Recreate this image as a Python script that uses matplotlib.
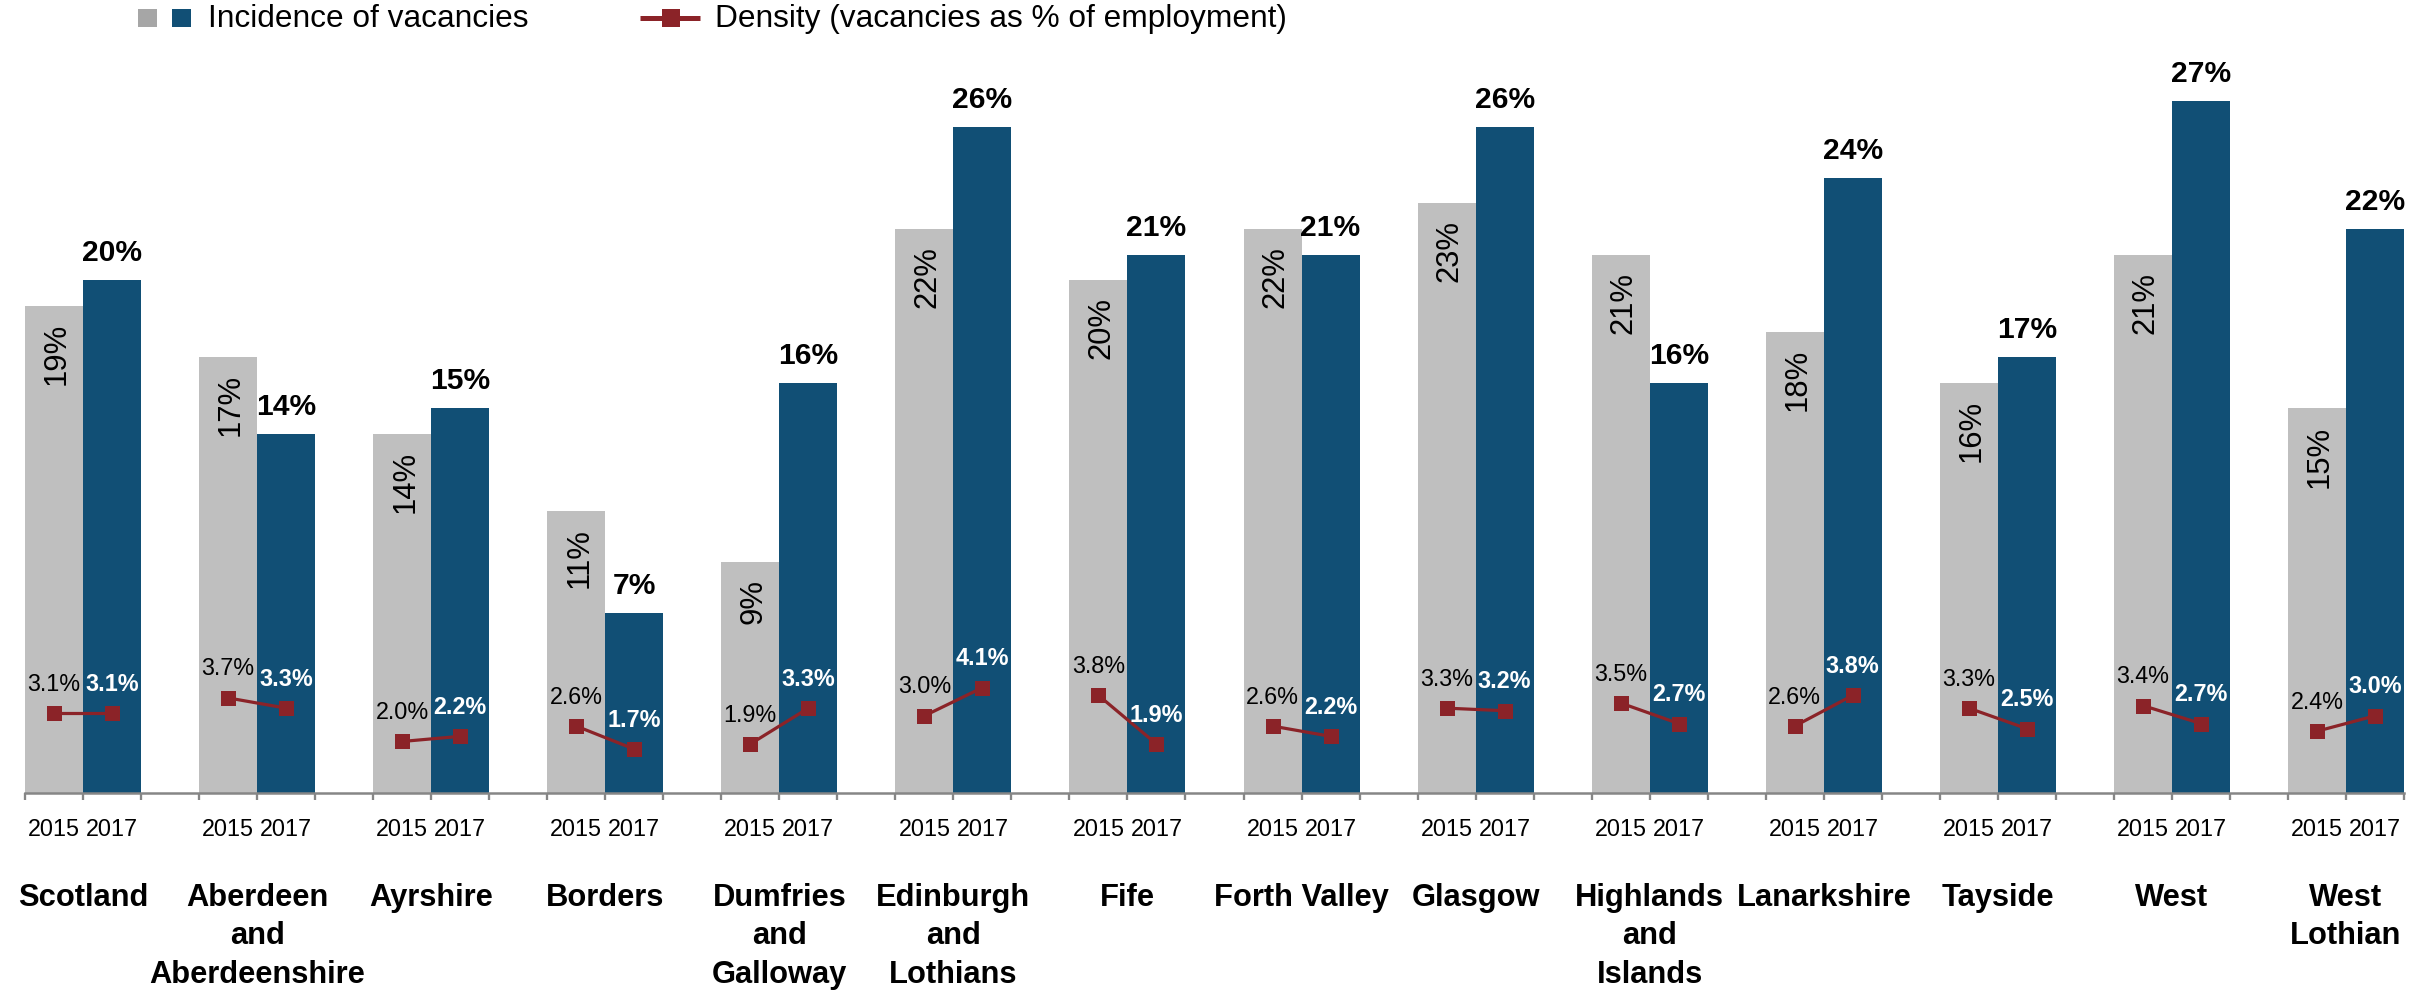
import matplotlib
matplotlib.use("Agg")
import matplotlib.pyplot as plt
from matplotlib.patches import Rectangle
from matplotlib.lines import Line2D

# ---- data -------------------------------------------------------------
regions = [
    "Scotland",
    "Aberdeen\nand\nAberdeenshire",
    "Ayrshire",
    "Borders",
    "Dumfries\nand\nGalloway",
    "Edinburgh\nand\nLothians",
    "Fife",
    "Forth Valley",
    "Glasgow",
    "Highlands\nand\nIslands",
    "Lanarkshire",
    "Tayside",
    "West",
    "West\nLothian",
]
years = ["2015", "2017"]

# incidence of vacancies (% of establishments)
incidence_2015 = [19, 17, 14, 11, 9, 22, 20, 22, 23, 21, 18, 16, 21, 15]
incidence_2017 = [20, 14, 15, 7, 16, 26, 21, 21, 26, 16, 24, 17, 27, 22]

# density (vacancies as % of employment)
density_2015 = [3.1, 3.7, 2.0, 2.6, 1.9, 3.0, 3.8, 2.6, 3.3, 3.5, 2.6, 3.3, 3.4, 2.4]
density_2017 = [3.1, 3.3, 2.2, 1.7, 3.3, 4.1, 1.9, 2.2, 3.2, 2.7, 3.8, 2.5, 2.7, 3.0]

legend_labels = ["Incidence of vacancies", "Density (vacancies as % of employment)"]

# ---- style ------------------------------------------------------------
GREY = "#BFBFBF"
GREY_KEY = "#A6A6A6"
BLUE = "#114F75"
RED = "#8B2328"
AXIS = "#868686"

plt.rcParams["font.family"] = ["Liberation Sans", "DejaVu Sans"]

DPI = 100
W, H = 2435, 991


def pt(px):
    """pixels -> points at the output resolution"""
    return px * 72.0 / DPI


def fx(px):
    return px / W


def fy(px):
    return 1.0 - px / H


fig = plt.figure(figsize=(W / DPI, H / DPI), dpi=DPI)
fig.patch.set_facecolor("white")

ax = fig.add_axes([25 / W, (H - 792.7) / H, 2379 / W, 768.6 / H])
ax.set_xlim(0, 41)
ax.set_ylim(0, 30)
ax.patch.set_visible(False)

n = len(regions)
x15 = [3 * i + 0.5 for i in range(n)]
x17 = [3 * i + 1.5 for i in range(n)]

ax.bar(x15, incidence_2015, width=1.0, color=GREY, linewidth=0, zorder=2)
ax.bar(x17, incidence_2017, width=1.0, color=BLUE, linewidth=0, zorder=2)

for i in range(n):
    ax.plot([x15[i], x17[i]], [density_2015[i], density_2017[i]],
            color=RED, lw=pt(3.2), marker="s", ms=pt(15), mew=0,
            zorder=4, solid_capstyle="butt")

for i in range(n):
    # 2015 incidence, rotated inside the bar
    ax.annotate(f"{incidence_2015[i]}%", (x15[i], incidence_2015[i]),
                xytext=(pt(3), -pt(17)), textcoords="offset points",
                rotation=90, ha="center", va="top", fontsize=22.3,
                color="black", zorder=5)
    # 2017 incidence, bold above the bar
    ax.annotate(f"{incidence_2017[i]}%", (x17[i], incidence_2017[i]),
                xytext=(0, pt(19)), textcoords="offset points",
                ha="center", va="baseline", fontsize=21.6,
                fontweight="bold", color="black", zorder=5)
    # density labels above the markers
    ax.annotate(f"{density_2015[i]:.1f}%", (x15[i], density_2015[i]),
                xytext=(0, pt(22.5)), textcoords="offset points",
                ha="center", va="baseline", fontsize=16.8,
                color="black", zorder=5)
    ax.annotate(f"{density_2017[i]:.1f}%", (x17[i], density_2017[i]),
                xytext=(0, pt(22.5)), textcoords="offset points",
                ha="center", va="baseline", fontsize=16.8,
                fontweight="bold", color="white", zorder=5)

# ---- axes -------------------------------------------------------------
for side in ("left", "right", "top"):
    ax.spines[side].set_visible(False)
ax.spines["bottom"].set_color(AXIS)
ax.spines["bottom"].set_linewidth(pt(2.5))
ax.set_yticks([])
ax.set_xticks(range(42))
ax.tick_params(axis="x", length=pt(7), width=pt(2.3), color=AXIS,
               direction="out", labelbottom=False)

for i in range(n):
    for x, yr in zip((x15[i], x17[i]), years):
        ax.annotate(yr, (x, 0), xycoords=("data", "axes fraction"),
                    xytext=(0, -pt(43)), textcoords="offset points",
                    ha="center", va="baseline", fontsize=16.8,
                    color="black", annotation_clip=False)
    for j, line in enumerate(regions[i].split("\n")):
        ax.annotate(line, (3 * i + 1, 0), xycoords=("data", "axes fraction"),
                    xytext=(0, -pt(90.3 + 38.3 * j)), textcoords="offset points",
                    ha="center", va="top", fontsize=22.2, fontweight="bold",
                    color="black", annotation_clip=False)

# ---- legend -----------------------------------------------------------
fig.add_artist(Rectangle((fx(138), fy(27)), 19 / W, 18 / H,
                         transform=fig.transFigure, facecolor=GREY_KEY, lw=0))
fig.add_artist(Rectangle((fx(172), fy(27)), 19 / W, 18 / H,
                         transform=fig.transFigure, facecolor=BLUE, lw=0))
fig.text(fx(208), fy(26.7), legend_labels[0], fontsize=22.8,
         ha="left", va="baseline", color="black")

fig.add_artist(Line2D([fx(640), fx(700)], [fy(17.5), fy(17.5)],
                      transform=fig.transFigure, color=RED, lw=pt(5),
                      solid_capstyle="butt"))
fig.add_artist(Line2D([fx(671)], [fy(17.5)], transform=fig.transFigure,
                      marker="s", ms=pt(18), mew=0, color=RED, linestyle="none"))
fig.text(fx(715), fy(26.7), legend_labels[1], fontsize=22.8,
         ha="left", va="baseline", color="black")

fig.savefig("out.png", dpi=DPI)
